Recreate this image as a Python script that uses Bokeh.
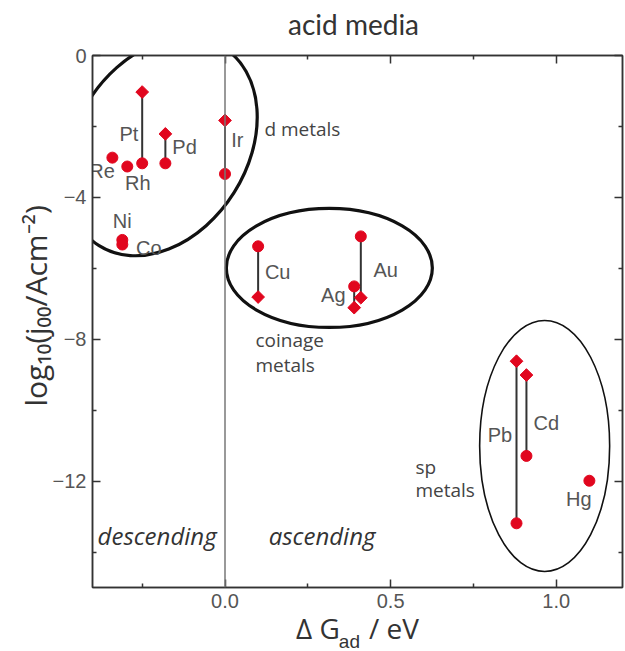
from math import pi
from bokeh.plotting import figure
from bokeh.models import Range1d, LinearAxis, FixedTicker, Span, Label
from bokeh.core.properties import value
from bokeh.embed import file_html
from bokeh.resources import INLINE

# ---------------- data ----------------
# metals with two values (diamond = one value, circle = the other)
pair_metals = ["Pt", "Pd", "Ir", "Cu", "Au", "Ag", "Pb", "Cd"]
pair_dG = [-0.25, -0.18, 0.0, 0.10, 0.41, 0.39, 0.88, 0.91]
diamond_logj = [-1.03, -2.21, -1.83, -6.81, -6.83, -7.11, -8.62, -9.01]
circle_logj = [-3.04, -3.04, -3.34, -5.38, -5.10, -6.51, -13.19, -11.29]

# metals with a single value
single_metals = ["Re", "Rh", "Ni", "Co", "Hg"]
single_dG = [-0.34, -0.295, -0.31, -0.31, 1.10]
single_logj = [-2.88, -3.13, -5.20, -5.33, -11.99]

x_ticks = [0, 0.5, 1]
x_tick_labels = ["0.0", "0.5", "1.0"]
x_minor = [-0.25, 0.25, 0.75]
y_ticks = [0, -4, -8, -12]
y_tick_labels = ["0", "\u22124", "\u22128", "\u221212"]
y_minor = [-2, -6, -10, -14]

title_text = "acid media"
x_label_main = "\u0394 G\u00a0\u00a0\u00a0\u00a0/ eV"
x_label_sub = "ad"
y_label = "\u00a0" * 4 + "log\u2081\u2080(j\u2080\u2080/Acm\u207b\u00b2)"

# element label placement
el_text = ["Pt", "Pd", "Re", "Rh", "Ir", "Ni", "Co", "Cu", "Au", "Ag", "Pb", "Cd", "Hg"]
el_x = [-0.290, -0.122, -0.371, -0.263, 0.037, -0.310, -0.230, 0.159, 0.485, 0.327, 0.830, 0.970, 1.068]
el_y = [-2.20, -2.59, -3.25, -3.59, -2.37, -4.68, -5.43, -6.11, -6.04, -6.74, -10.70, -10.37, -12.50]

grp_text = ["d metals", "coinage", "metals", "sp", "metals"]
grp_x = [0.119, 0.092, 0.092, 0.575, 0.575]
grp_y = [-2.07, -8.03, -8.74, -11.61, -12.26]

# group ellipses (centre in data, size in screen px)
ell_x = [-0.192, 0.315, 0.965]
ell_y = [-2.57, -5.99, -11.01]
ell_w = [234, 206, 130]
ell_h = [172, 119, 251]
ell_angle = [1.009, 0.0, 0.0]
ell_lw = [3.2, 3.2, 1.6]

RED = "#e1061e"
TXT = "#555555"

p = figure(width=625, height=651,
           x_range=Range1d(-0.40, 1.20), y_range=Range1d(-15, 0),
           output_backend="svg", toolbar_location=None,
           min_border_left=92, min_border_right=3,
           min_border_top=55, min_border_bottom=64)
p.xgrid.visible = False
p.ygrid.visible = False
p.outline_line_color = "#333333"
p.outline_line_width = 1.5
p.background_fill_color = "white"
p.border_fill_color = "white"

xt = FixedTicker(ticks=x_ticks, minor_ticks=x_minor)
yt = FixedTicker(ticks=y_ticks, minor_ticks=y_minor)


def style_axis(ax, show_labels):
    ax.axis_line_color = "#333333"
    ax.axis_line_width = 1.5
    ax.major_tick_in = 8
    ax.major_tick_out = 0
    ax.minor_tick_in = 4
    ax.minor_tick_out = 0
    ax.major_tick_line_color = "#333333"
    ax.major_tick_line_width = 1.5
    ax.minor_tick_line_color = "#333333"
    ax.minor_tick_line_width = 1.5
    ax.major_label_text_font = "Liberation Sans"
    ax.major_label_text_font_size = "20px" if show_labels else "0px"
    ax.major_label_text_color = "#555555"
    ax.major_label_standoff = 6 if show_labels else 0
    ax.axis_label_text_font = "Open Sans"
    ax.axis_label_text_font_style = "normal"
    ax.axis_label_text_color = "#333333"


p.xaxis[0].ticker = xt
p.yaxis[0].ticker = yt
p.xaxis[0].major_label_overrides = {k: v for k, v in zip(x_ticks, x_tick_labels)}
p.yaxis[0].major_label_overrides = {k: v for k, v in zip(y_ticks, y_tick_labels)}
style_axis(p.xaxis[0], True)
style_axis(p.yaxis[0], True)
p.xaxis[0].axis_label = x_label_main
p.xaxis[0].axis_label_text_font_size = "28px"
p.xaxis[0].axis_label_standoff = -2
p.yaxis[0].axis_label = y_label
p.yaxis[0].axis_label_text_font_size = "30px"
p.yaxis[0].axis_label_standoff = -6

top_ax = LinearAxis(ticker=xt, major_label_overrides={k: "" for k in x_ticks})
right_ax = LinearAxis(ticker=yt, major_label_overrides={k: "" for k in y_ticks})
style_axis(top_ax, False)
style_axis(right_ax, False)
p.add_layout(top_ax, "above")
p.add_layout(right_ax, "right")

# vertical separator at dG = 0
p.add_layout(Span(location=0, dimension="height", line_color="#777777", line_width=1.5))

# connecting lines
p.segment(x0=pair_dG, y0=diamond_logj, x1=pair_dG, y1=circle_logj,
          line_color="#333333", line_width=2)

# markers
p.scatter(x=pair_dG + single_dG, y=circle_logj + single_logj, marker="circle",
          size=11, fill_color=RED, line_color=RED)
p.scatter(x=pair_dG, y=diamond_logj, marker="square", angle=pi / 4, size=9,
          fill_color=RED, line_color=RED)

# group ellipses
for i in range(len(ell_x)):
    p.ellipse(x=[ell_x[i]], y=[ell_y[i]], width=[ell_w[i]], height=[ell_h[i]],
              angle=[ell_angle[i]], width_units="screen", height_units="screen",
              fill_alpha=0, line_color="#111111", line_width=ell_lw[i])

# element labels
p.text(x=el_x, y=el_y, text=el_text, text_font=value("Liberation Sans"),
       text_font_size=value("20px"), text_color=TXT,
       text_align="center", text_baseline="middle")

# group labels
p.text(x=grp_x, y=grp_y, text=grp_text, text_font=value("Open Sans"),
       text_font_size=value("19px"), text_color="#444444",
       text_align="left", text_baseline="middle")

# descending / ascending
p.text(x=[-0.205, 0.293], y=[-13.53, -13.53], text=["descending", "ascending"],
       text_font=value("Open Sans"), text_font_style="italic",
       text_font_size=value("24px"), text_color="#333333",
       text_align="center", text_baseline="middle")

# title and the subscript of the x label live in the top side panel (not clipped)
p.add_layout(Label(x=0.388, y=0, y_offset=32, text=title_text,
                   text_font="Lato", text_font_size="28px",
                   text_color="#333333", text_align="center",
                   text_baseline="middle"), "above")
p.add_layout(Label(x=0.3437, y=-15, y_offset=-54, text=x_label_sub,
                   text_font="Liberation Sans", text_font_size="19px",
                   text_color="#333333", text_align="left",
                   text_baseline="middle"), "above")

open("out.html", "w").write(file_html(p, INLINE))
